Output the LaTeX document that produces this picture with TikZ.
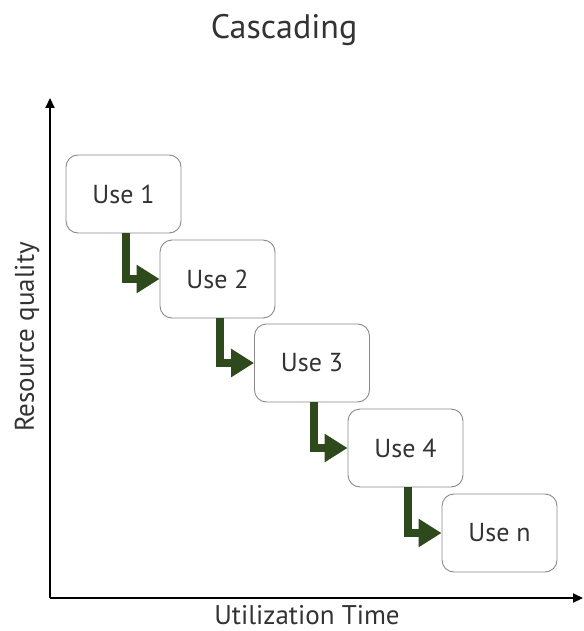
\documentclass[tikz,border=0pt]{standalone}
\usepackage{fontspec}
\setmainfont{PT Sans}
\usetikzlibrary{arrows.meta}
\definecolor{flowgreen}{HTML}{2E4A1C}
\definecolor{boxline}{HTML}{8A8A8A}
\definecolor{inktext}{HTML}{333333}
\begin{document}
\begin{tikzpicture}[x=1pt,y=-1pt,
  usebox/.style={draw=boxline, line width=0.9pt, rounded corners=12pt,
    minimum width=115pt, minimum height=78pt, fill=white,
    text=inktext, font=\fontsize{26}{30}\selectfont},
  axisline/.style={line width=2.2pt, -{Triangle[length=10pt,width=9pt]}},
  flow/.style={draw=flowgreen, line width=8pt,
    -{Triangle[length=23pt,width=27pt]}},
  lbl/.style={text=inktext, font=\fontsize{27}{30}\selectfont, inner sep=1pt}]
\useasboundingbox (0,0) rectangle (583,631);

% title
\node[text=inktext, font=\fontsize{34}{38}\selectfont] (title) at (284,30) {Cascading};

% axes
\coordinate (origin) at (50,598);
\coordinate (ytip) at (50,98);
\coordinate (xtip) at (583,598);
\draw[axisline] (origin) -- (ytip);
\draw[axisline] (origin) -- (xtip);
\node[lbl] (xlabel) at (307,615) {Utilization Time};
\node[lbl, rotate=90] (ylabel) at (27,337) {Resource quality};

% cascade of uses
\node[usebox] (u1) at (123.5,194) {Use 1};
\node[usebox] (u2) at (217.5,279) {Use 2};
\node[usebox] (u3) at (312,363) {Use 3};
\node[usebox] (u4) at (405.5,448) {Use 4};
\node[usebox] (un) at (499.5,533) {Use n};

% elbow arrows between successive uses
\foreach \a/\b in {u1/u2,u2/u3,u3/u4,u4/un}{
  \draw[flow] ([xshift=2pt]\a.south) |- (\b.west);
}
\end{tikzpicture}
\end{document}
